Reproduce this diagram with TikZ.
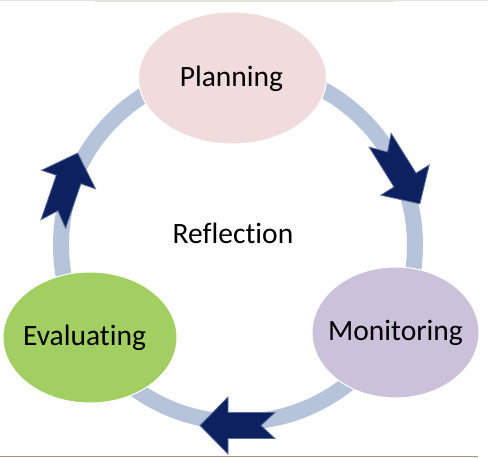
\documentclass[tikz,border=0pt]{standalone}
\usepackage{fontspec}
\setmainfont{Carlito}[Ligatures=NoCommon]
\usetikzlibrary{shapes.geometric}
\definecolor{ringc}{HTML}{B5C3DB}
\definecolor{navy}{HTML}{0D2160}
\definecolor{navyedge}{HTML}{5A6E9A}
\definecolor{planc}{HTML}{F0DCDC}
\definecolor{monc}{HTML}{CCC1DA}
\definecolor{evac}{HTML}{A1CF61}
\definecolor{topline}{HTML}{E4E4DE}
\definecolor{botline}{HTML}{A8957A}
\tikzset{
  blob/.style={ellipse, draw=white, line width=1pt, inner sep=0pt},
  lbl/.style={font=\fontsize{29.5}{34}\selectfont, inner sep=0pt, text=black},
  bigarrow/.style={fill=navy, draw=navyedge, line width=0.8pt, line join=miter}
}
\begin{document}
\begin{tikzpicture}[x=1pt,y=-1pt]
\fill[white] (0,0) rectangle (488,458);
\useasboundingbox (0,0) rectangle (488,458);
\draw[topline, line width=1pt] (0,0.5) -- (488,0.5);
\draw[topline, line width=2pt] (95,1) -- (395,1);
\draw[botline, line width=1pt] (0,456) -- (478,456);
% ring
\coordinate (c) at (238,245);
\draw[ringc, line width=16pt] (c) circle[radius=177];
% ellipses
\node[blob, fill=planc, minimum width=188pt, minimum height=132pt] (plan) at (232.5,78) {};
\node[blob, fill=monc, minimum width=167pt, minimum height=131pt] (mon) at (395.5,332.5) {};
\node[blob, fill=evac, minimum width=174pt, minimum height=131pt] (eva) at (90,337.5) {};
% labels
\node[lbl] (tplan) at (231.5,78.5) {Planning};
\node[lbl] (tmon) at (395.5,332.5) {Monitoring};
\node[lbl] (teva) at (84.5,337.5) {Evaluating};
\node[lbl] (tref) at (233,233.5) {Reflection};
% arrows
\foreach \cx/\cy/\ang in {400/172/-58, 237.5/425.5/180, 65.5/188.5/71}{
  \begin{scope}[shift={(\cx,\cy)}, rotate=\ang]
    \path[bigarrow] (37.5,0) -- (9.5,28.5) -- (9.5,13) -- (-37.5,13) -- (-23.5,0)
      -- (-37.5,-13) -- (9.5,-13) -- (9.5,-28.5) -- cycle;
  \end{scope}
}
\end{tikzpicture}
\end{document}
